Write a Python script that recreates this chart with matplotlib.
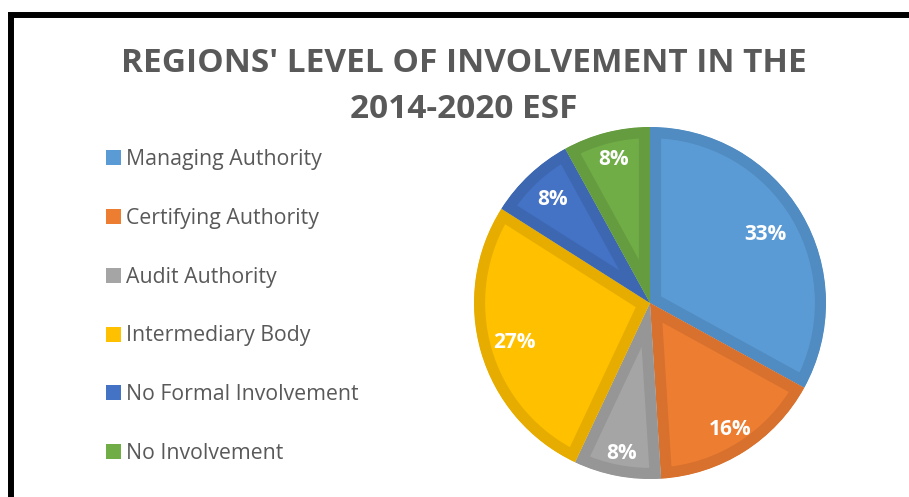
import numpy as np
import matplotlib.pyplot as plt
import matplotlib.patches as mpatches
from matplotlib.lines import Line2D

# data
categories = ["Managing Authority", "Certifying Authority", "Audit Authority",
              "Intermediary Body", "No Formal Involvement", "No Involvement"]
shares = [33, 16, 8, 27, 8, 8]

fills = ["#5B9BD5", "#ED7D31", "#A5A5A5", "#FFC000", "#4472C4", "#70AD47"]
edges = ["#508BC1", "#D7712D", "#969696", "#E6AD00", "#3E67B1", "#659C40"]
label_dist = [0.76, 0.85, 0.87, 0.80, 0.81, 0.84]

plt.rcParams['font.family'] = ['Open Sans', 'DejaVu Sans']

W, H = 909, 497
fig = plt.figure(figsize=(W / 100, H / 100), dpi=100)

# black frame on top and left
fig.add_artist(Line2D([11 / W, 11 / W], [0, 1 - 15 / H], color="black", lw=4.3,
                      solid_capstyle="butt", transform=fig.transFigure))
fig.add_artist(Line2D([8 / W, 1], [1 - 15 / H, 1 - 15 / H], color="black", lw=4.3,
                      solid_capstyle="butt", transform=fig.transFigure))

# title
fig.text(464 / W, 1 - 72 / H, "REGIONS' LEVEL OF INVOLVEMENT IN THE", ha="center",
         va="baseline", fontsize=24, fontweight="bold", color="#595959")
fig.text(464 / W, 1 - 118 / H, "2014-2020 ESF", ha="center",
         va="baseline", fontsize=24, fontweight="bold", color="#595959")

# pie
cx, cy, r = 650, 303, 176
ax = fig.add_axes([(cx - r) / W, (H - cy - r) / H, 2 * r / W, 2 * r / H])
wedges, _ = ax.pie(shares, colors=fills, startangle=90, counterclock=False,
                   wedgeprops=dict(linewidth=16, joinstyle="miter"))
for w, ec, d, s in zip(wedges, edges, label_dist, shares):
    w.set_edgecolor(ec)
    w.set_clip_on(True)
    w.set_clip_path(w)   # keep the thick border inside its own slice
    ang = np.deg2rad((w.theta1 + w.theta2) / 2)
    ax.text(d * np.cos(ang), d * np.sin(ang), f"{s}%", ha="center", va="center",
            color="white", fontsize=15, fontweight="bold")
ax.set_xlim(-1, 1)
ax.set_ylim(-1, 1)
ax.set_aspect("equal")
ax.axis("off")

# legend
handles = [mpatches.Patch(facecolor=c, edgecolor="none") for c in fills]
leg = fig.legend(handles, categories, loc="upper left",
                 bbox_to_anchor=(106 / W, 1 - 149 / H), frameon=False,
                 fontsize=15.3, labelcolor="#595959", handlelength=0.71,
                 handleheight=0.71, handletextpad=0.24, labelspacing=1.78,
                 borderaxespad=0, borderpad=0)

fig.savefig("out.png", dpi=100)
